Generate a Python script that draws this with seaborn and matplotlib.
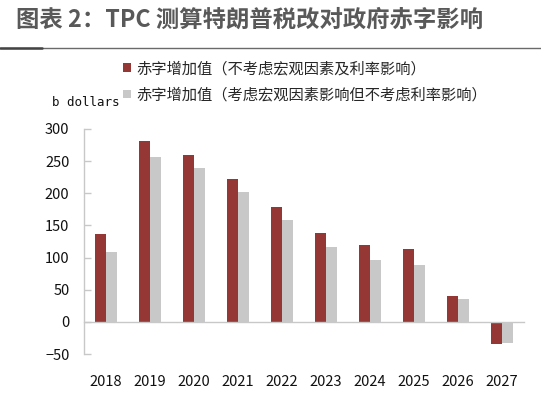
import matplotlib
matplotlib.use("Agg")
import matplotlib.pyplot as plt
from matplotlib.lines import Line2D
import numpy as np
import pandas as pd
import seaborn as sns

# data (billion dollars)
years = ["2018", "2019", "2020", "2021", "2022", "2023", "2024", "2025", "2026", "2027"]
deficit_static = [136, 281, 260, 222, 179, 138, 120, 114, 41, -35]
deficit_macro = [108, 256, 240, 202, 158, 116, 97, 89, 35, -33]
series_names = ["赤字增加值（不考虑宏观因素及利率影响）", "赤字增加值（考虑宏观因素影响但不考虑利率影响）"]
y_ticks = [-50, 0, 50, 100, 150, 200, 250, 300]

RED = "#953735"
GREY = "#C8C8C8"
AXIS = "#C8C8C8"
CJK = ["Noto Sans CJK SC", "DejaVu Sans"]

sns.set_theme(style="white")
plt.rcParams["font.family"] = CJK

df = pd.DataFrame({
    "Year": years * 2,
    "Value": deficit_static + deficit_macro,
    "Series": [series_names[0]] * len(years) + [series_names[1]] * len(years),
})

fig = plt.figure(figsize=(5.41, 3.98), dpi=100)
ax = fig.add_axes([84 / 541, 1 - 354 / 398, 440 / 541, 225 / 398])

sns.barplot(data=df, x="Year", y="Value", hue="Series", order=years, hue_order=series_names,
            palette=[RED, GREY], saturation=1, width=0.48, linewidth=0, ax=ax)

ax.set_xlim(-0.5, len(years) - 0.5)
ax.set_ylim(-50, 300)
ax.set_yticks(y_ticks)
ax.set_xlabel("")
ax.set_ylabel("")

for side in ["top", "right"]:
    ax.spines[side].set_visible(False)
ax.spines["left"].set_color(AXIS)
ax.spines["left"].set_linewidth(1)
ax.spines["bottom"].set_position(("data", 0))
ax.spines["bottom"].set_color(AXIS)
ax.spines["bottom"].set_linewidth(1)

ax.set_xticks(np.arange(-0.5, len(years), 1.0), minor=True)
ax.tick_params(axis="x", which="minor", direction="out", length=5, color=AXIS, width=1)
ax.tick_params(axis="x", which="major", length=0, pad=38, labelsize=10.5, labelcolor="#111111")
ax.tick_params(axis="y", direction="in", length=5, color=AXIS, width=1, pad=10.5,
               labelsize=10.5, labelcolor="#111111", left=True)

handles, labels = ax.get_legend_handles_labels()
ax.legend(handles, labels, loc="upper left", bbox_to_anchor=(123 / 541, 1 - 60 / 398),
          bbox_transform=fig.transFigure, frameon=False, fontsize=11,
          handlelength=0.5, handleheight=0.5, handletextpad=0.35, labelspacing=0.62,
          borderaxespad=0, borderpad=0)

fig.text(52 / 541, 1 - 103 / 398, "b dollars", fontsize=9, family="DejaVu Sans Mono",
         color="#111111", va="center", ha="left")

fig.text(16 / 541, 1 - 20 / 398, "图表 2：TPC 测算特朗普税改对政府赤字影响", fontsize=16.8,
         fontweight="bold", color="#595959", va="center", ha="left", family=CJK)
fig.add_artist(Line2D([0, 1], [1 - 48 / 398] * 2, color="#6a6a6a", lw=1.0,
                      transform=fig.transFigure))
fig.add_artist(Line2D([0, 42 / 541], [1 - 48 / 398] * 2, color="#444444", lw=1.8,
                      transform=fig.transFigure))

fig.savefig("out.png", dpi=100)
